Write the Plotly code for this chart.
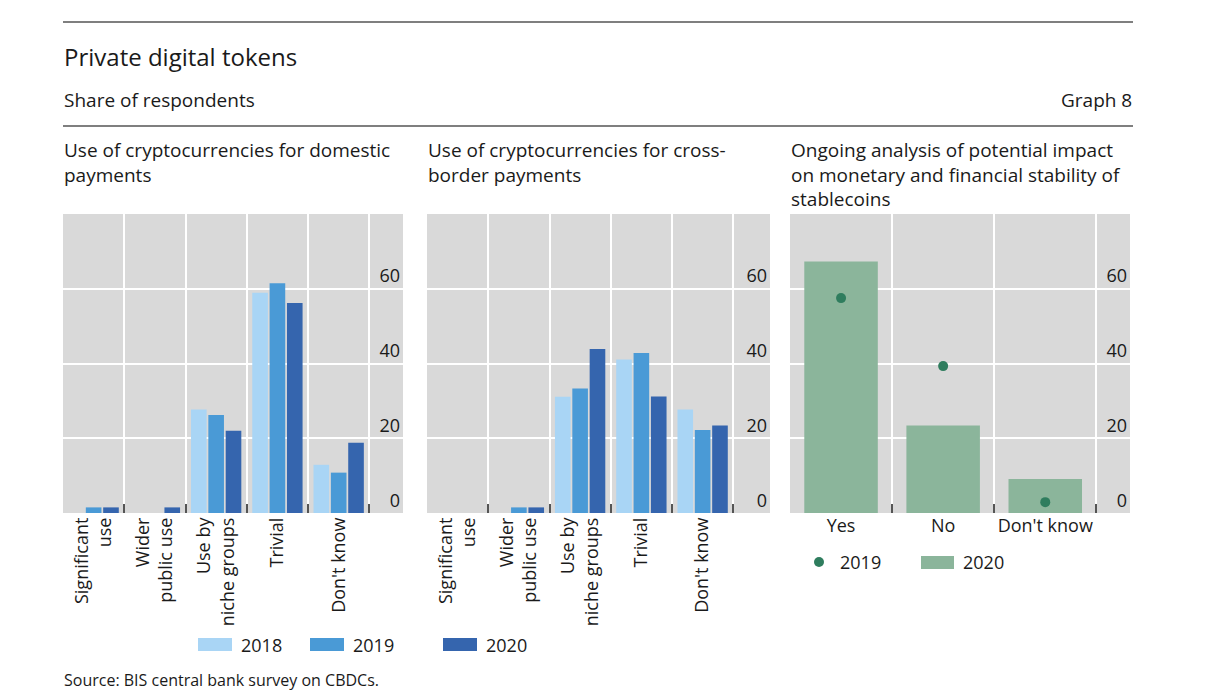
import plotly.graph_objects as go

# ---------------- data ----------------
use_categories = ["Significant<br>use", "Wider<br>public use", "Use by<br>niche groups", "Trivial", "Don't know"]
years = ["2018", "2019", "2020"]
domestic_2018 = [0, 0, 27.7, 58.9, 12.9]
domestic_2019 = [1.5, 0, 26.2, 61.5, 10.8]
domestic_2020 = [1.5, 1.5, 22.0, 56.2, 18.8]
crossborder_2018 = [0, 0, 31.1, 41.1, 27.7]
crossborder_2019 = [0, 1.5, 33.3, 42.8, 22.2]
crossborder_2020 = [0, 1.5, 43.9, 31.2, 23.4]
stable_categories = ["Yes", "No", "Don't know"]
stable_2019 = [57.5, 39.3, 2.9]
stable_2020 = [67.3, 23.4, 9.1]
y_ticks = [0, 20, 40, 60]

# ---------------- style ----------------
W, H = 1209, 696
OFF = 8  # page body margin
FONT = "Open Sans"
TXT = "#1a1a1a"
BLUES = {"2018": "#a9d5f5", "2019": "#4a9ad6", "2020": "#3565ae"}
GREEN_BAR = "#8bb59b"
GREEN_DOT = "#2f7d5e"
GRID_BG = "#d9d9d9"


def px_x(x):
    return (x - OFF) / W


def px_y(y):
    return 1 - (y - OFF) / H


fig = go.Figure()

for yr, vals in zip(years, [domestic_2018, domestic_2019, domestic_2020]):
    fig.add_trace(go.Bar(x=use_categories, y=vals, marker_color=BLUES[yr], marker_line_width=0,
                         xaxis="x", yaxis="y", showlegend=False, name=yr))
for yr, vals in zip(years, [crossborder_2018, crossborder_2019, crossborder_2020]):
    fig.add_trace(go.Bar(x=use_categories, y=vals, marker_color=BLUES[yr], marker_line_width=0,
                         xaxis="x2", yaxis="y2", showlegend=False, name=yr))
fig.add_trace(go.Bar(x=stable_categories, y=stable_2020, marker_color=GREEN_BAR, marker_line_width=0,
                     width=0.72, xaxis="x3", yaxis="y3", showlegend=False, name="2020"))
fig.add_trace(go.Scatter(x=stable_categories, y=stable_2019, mode="markers",
                         marker=dict(color=GREEN_DOT, size=10), xaxis="x3", yaxis="y3",
                         showlegend=False, name="2019"))

y_dom = [px_y(513), px_y(214)]
panels = [
    ("x", "y", [63, 403], [-0.5, 5.05], -90),
    ("x2", "y2", [427, 770], [-0.5, 5.1], -90),
    ("x3", "y3", [790, 1130], [-0.5, 2.83], 0),
]
layout_axes = {}
for xa, ya, (x0, x1), rng, angle in panels:
    xkey = "xaxis" + xa[1:]
    ykey = "yaxis" + ya[1:]
    layout_axes[xkey] = dict(
        domain=[px_x(x0), px_x(x1)], range=rng, type="category", anchor=ya,
        tickson="boundaries", showgrid=True, gridcolor="white", gridwidth=1.5,
        ticks="inside", ticklen=9, tickcolor="#555555", tickwidth=1.5,
        tickangle=angle, tickfont=dict(family=FONT, size=18, color=TXT),
        showline=False, zeroline=False, fixedrange=True,
    )
    layout_axes[ykey] = dict(
        domain=y_dom, range=[0, 80], anchor=xa, side="right",
        tickvals=y_ticks, ticklabelposition="inside top",
        ticks="", showgrid=True, gridcolor="white", gridwidth=1.5,
        zeroline=False, showline=False,
        tickfont=dict(family=FONT, size=18, color=TXT), fixedrange=True,
    )

fig.update_layout(
    width=W, height=H, margin=dict(l=0, r=0, t=0, b=0),
    paper_bgcolor="white", plot_bgcolor=GRID_BG,
    barmode="group", bargap=0.15, bargroupgap=0.1,
    font=dict(family=FONT, color=TXT),
    **layout_axes,
)

# rules
for yline in (22, 126):
    fig.add_shape(type="line", xref="paper", yref="paper", x0=px_x(63), x1=px_x(1133),
                  y0=px_y(yline), y1=px_y(yline), line=dict(color="#555555", width=1.5))

ann = []
ann.append(dict(text="Private digital tokens", x=px_x(62), y=px_y(56), xanchor="left", yanchor="middle",
                font=dict(size=24)))
ann.append(dict(text="Share of respondents", x=px_x(62), y=px_y(100), xanchor="left", yanchor="middle",
                font=dict(size=19)))
ann.append(dict(text="Graph 8", x=px_x(1134), y=px_y(100), xanchor="right", yanchor="middle",
                font=dict(size=19)))
titles = [
    (62, "Use of cryptocurrencies for domestic<br>payments"),
    (426, "Use of cryptocurrencies for cross-<br>border payments"),
    (789, "Ongoing analysis of potential impact<br>on monetary and financial stability of<br>stablecoins"),
]
for x, t in titles:
    ann.append(dict(text=t, x=px_x(x), y=px_y(135), xanchor="left", yanchor="top",
                    align="left", font=dict(size=19)))
ann.append(dict(text="Source: BIS central bank survey on CBDCs.", x=px_x(62), y=px_y(680),
                xanchor="left", yanchor="middle", font=dict(size=16)))

# legend for blue bars
for yr, sx in zip(years, [198, 310, 443]):
    fig.add_shape(type="rect", xref="paper", yref="paper", x0=px_x(sx), x1=px_x(sx + 34),
                  y0=px_y(651), y1=px_y(638), fillcolor=BLUES[yr], line_width=0)
    ann.append(dict(text=yr, x=px_x(sx + 41), y=px_y(645), xanchor="left", yanchor="middle",
                    font=dict(size=18)))
# legend for stablecoins
fig.add_shape(type="circle", xref="paper", yref="paper", x0=px_x(814), x1=px_x(824),
              y0=px_y(567), y1=px_y(557), fillcolor=GREEN_DOT, line_width=0)
ann.append(dict(text="2019", x=px_x(838), y=px_y(562), xanchor="left", yanchor="middle", font=dict(size=18)))
fig.add_shape(type="rect", xref="paper", yref="paper", x0=px_x(921), x1=px_x(954),
              y0=px_y(569), y1=px_y(556), fillcolor=GREEN_BAR, line_width=0)
ann.append(dict(text="2020", x=px_x(961), y=px_y(562), xanchor="left", yanchor="middle", font=dict(size=18)))

for a in ann:
    a.update(xref="paper", yref="paper", showarrow=False)
    a.setdefault("font", {})
    a["font"].setdefault("family", FONT)
    a["font"].setdefault("color", TXT)
fig.update_layout(annotations=ann)

fig.write_html("out.html")
